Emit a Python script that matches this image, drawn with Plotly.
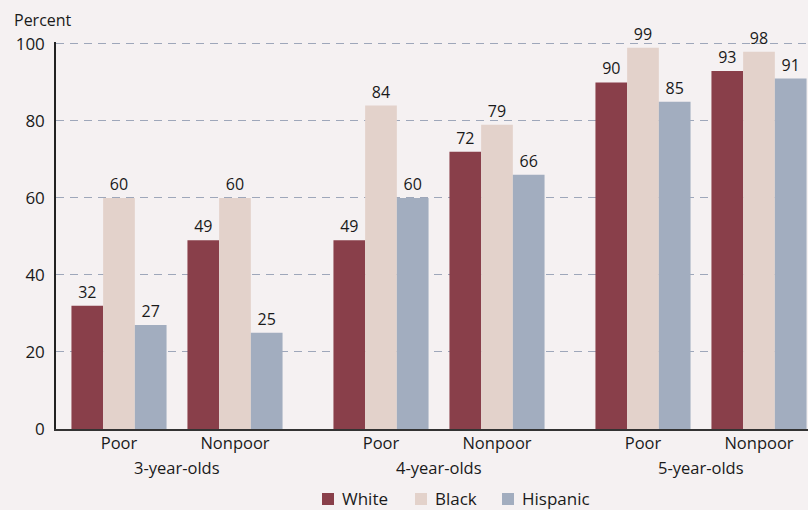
import plotly.graph_objects as go

ages = ["3-year-olds", "4-year-olds", "5-year-olds"]
incomes = ["Poor", "Nonpoor"]
white = [32, 49, 49, 72, 90, 93]
black = [60, 60, 84, 79, 99, 98]
hispanic = [27, 25, 60, 66, 85, 91]
series = [("White", white, "#893f4a"), ("Black", black, "#e3d2cb"), ("Hispanic", hispanic, "#a2adbf")]
y_ticks = [0, 20, 40, 60, 80, 100]

AGE_STEP = 262
INC_STEP = 116
START = 63
BAR_W = 31.7
FONT = "Open Sans"

xpos = []
for a in range(len(ages)):
    for i in range(len(incomes)):
        xpos.append(START + a * AGE_STEP + i * INC_STEP)

fig = go.Figure()
for k, (name, vals, col) in enumerate(series):
    fig.add_trace(go.Bar(
        x=xpos, y=vals, name=name, width=BAR_W, offset=-1.5 * BAR_W + k * BAR_W,
        marker=dict(color=col, line=dict(width=0)),
        text=[str(v) for v in vals], textposition="outside",
        textfont=dict(size=16, color="#1a1a1a", family=FONT),
        cliponaxis=False, showlegend=False,
    ))

fig.update_layout(
    width=808, height=510,
    margin=dict(l=56, r=0, t=42, b=81, autoexpand=False),
    paper_bgcolor="#f5f1f2", plot_bgcolor="#f5f1f2",
    font=dict(family=FONT, size=16, color="#1a1a1a"),
    barmode="overlay",
    showlegend=False,
    xaxis=dict(range=[0, 752], tickvals=xpos, ticktext=incomes * len(ages),
               showgrid=False, zeroline=False, showline=True, linecolor="#333333", linewidth=1.5,
               ticks="", tickfont=dict(size=16.5), ticklabelstandoff=-2),
    yaxis=dict(range=[0, 100.5], tickvals=y_ticks, showgrid=True, gridcolor="#9ea7ba",
               griddash="8px,6px", gridwidth=1, zeroline=False, showline=True,
               linecolor="#222222", linewidth=1.5, ticks="", tickfont=dict(size=17),
               ticklabelstandoff=6),
)

# paper coords: y=0 at pixel 429, plot height 387
PH = 510 - 42 - 81
def py(pix):
    return (429 - pix) / PH

for a, lab in enumerate(ages):
    cx = START + a * AGE_STEP + INC_STEP / 2
    fig.add_annotation(x=cx, xref="x", y=py(467), yref="paper", text=lab, showarrow=False,
                       yanchor="middle", font=dict(size=16.5))

fig.add_annotation(x=-56 / 752, xref="paper", y=py(20), yref="paper", text="Percent",
                   showarrow=False, xanchor="left", yanchor="middle", xshift=12, font=dict(size=16))

# manual legend
legend_x = [322, 415, 502]
for (name, vals, col), lx in zip(series, legend_x):
    x0 = (lx - 56) / 752
    x1 = (lx + 12 - 56) / 752
    fig.add_shape(type="rect", xref="paper", yref="paper", x0=x0, x1=x1, y0=py(505), y1=py(493),
                  fillcolor=col, line=dict(width=0))
    fig.add_annotation(x=(lx + 18 - 56) / 752, xref="paper", y=py(498), yref="paper", text=name,
                       showarrow=False, xanchor="left", yanchor="middle", font=dict(size=17))

fig.write_html("out.html")
